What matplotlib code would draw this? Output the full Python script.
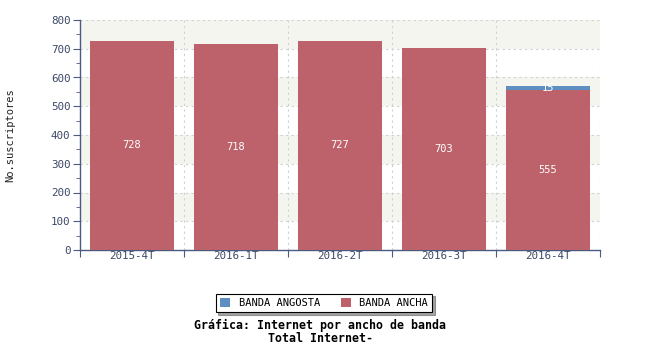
import matplotlib
matplotlib.use("Agg")
import matplotlib.pyplot as plt
from matplotlib.ticker import MultipleLocator
import numpy as np

categories = ["2015-4T", "2016-1T", "2016-2T", "2016-3T", "2016-4T"]
banda_ancha = [728, 718, 727, 703, 555]
banda_angosta = [0, 0, 0, 0, 15]

RED = "#bd616b"
BLUE = "#5e8fc2"
AXC = "#4a5a80"
TXT = "#3c4866"
FONT = "DejaVu Sans Mono"

fig = plt.figure(figsize=(6.5, 3.5), dpi=100)
ax = fig.add_axes([80/650, 1-250/350, 520/650, 230/350])

ax.set_xlim(0, len(categories))
ax.set_ylim(0, 800)

# alternating background bands
for lo in range(100, 800, 200):
    ax.axhspan(lo, lo+100, color="#f5f5f0", zorder=0, lw=0)

x = np.arange(len(categories)) + 0.5
w = 0.81
ax.bar(x, banda_ancha, width=w, color=RED, zorder=3, label="BANDA ANCHA")
ax.bar(x, banda_angosta, width=w, bottom=banda_ancha, color=BLUE, zorder=3, label="BANDA ANGOSTA")

for xi, a, b in zip(x, banda_ancha, banda_angosta):
    if a > 0:
        ax.text(xi, a/2, str(a), ha="center", va="center", color="white", fontsize=7.5, family=FONT, zorder=4)
    if b > 0:
        ax.text(xi, a + b/2, str(b), ha="center", va="center", color="white", fontsize=7.5, family=FONT, zorder=4)

# grid
for yv in range(100, 801, 100):
    ax.axhline(yv, color="#d0d0d0", lw=0.8, ls=(0, (2, 3)), zorder=1)
for xv in range(1, len(categories)+1):
    ax.axvline(xv, color="#d0d0d0", lw=0.8, ls=(0, (2, 3)), zorder=1)

for s in ["top", "right"]:
    ax.spines[s].set_visible(False)
for s in ["left", "bottom"]:
    ax.spines[s].set_color(AXC)
    ax.spines[s].set_linewidth(1.0)

ax.yaxis.set_major_locator(MultipleLocator(100))
ax.yaxis.set_minor_locator(MultipleLocator(50))
ax.tick_params(axis="y", which="major", length=5, color=AXC, labelcolor=TXT, labelsize=7.8, pad=2)
ax.tick_params(axis="y", which="minor", length=3, color=AXC)
ax.set_xticks(range(0, len(categories)+1))
ax.set_xticklabels([])
ax.set_xticks(x, minor=True)
ax.set_xticklabels(categories, minor=True)
ax.tick_params(axis="x", which="major", length=5, color=AXC)
ax.tick_params(axis="x", which="minor", length=0, labelcolor=TXT, labelsize=7.8, pad=1)
for lbl in ax.get_yticklabels() + ax.get_xticklabels(minor=True):
    lbl.set_family(FONT)

fig.text(10/650, 1-135/350, "No.suscriptores", rotation=90, ha="center", va="center",
         fontsize=7.5, family=FONT, color="#222222")

# legend
h, l = ax.get_legend_handles_labels()
leg = fig.legend(h[::-1], l[::-1], loc="center", bbox_to_anchor=(324/650, 1-303/350), ncol=2,
                 frameon=True, fancybox=False, shadow=True, prop={"family": FONT, "size": 7.5},
                 handlelength=1.0, handleheight=1.0, columnspacing=2.0, handletextpad=0.8,
                 borderpad=0.4, borderaxespad=0, edgecolor="black")
leg.get_frame().set_linewidth(0.8)

fig.text(320/650, 1-325/350, "Gráfica: Internet por ancho de banda", ha="center", va="center",
         fontsize=8.4, family=FONT, weight="bold", color="black")
fig.text(320/650, 1-338/350, "Total Internet-", ha="center", va="center",
         fontsize=8.4, family=FONT, weight="bold", color="black")

fig.savefig("out.png", dpi=100)
